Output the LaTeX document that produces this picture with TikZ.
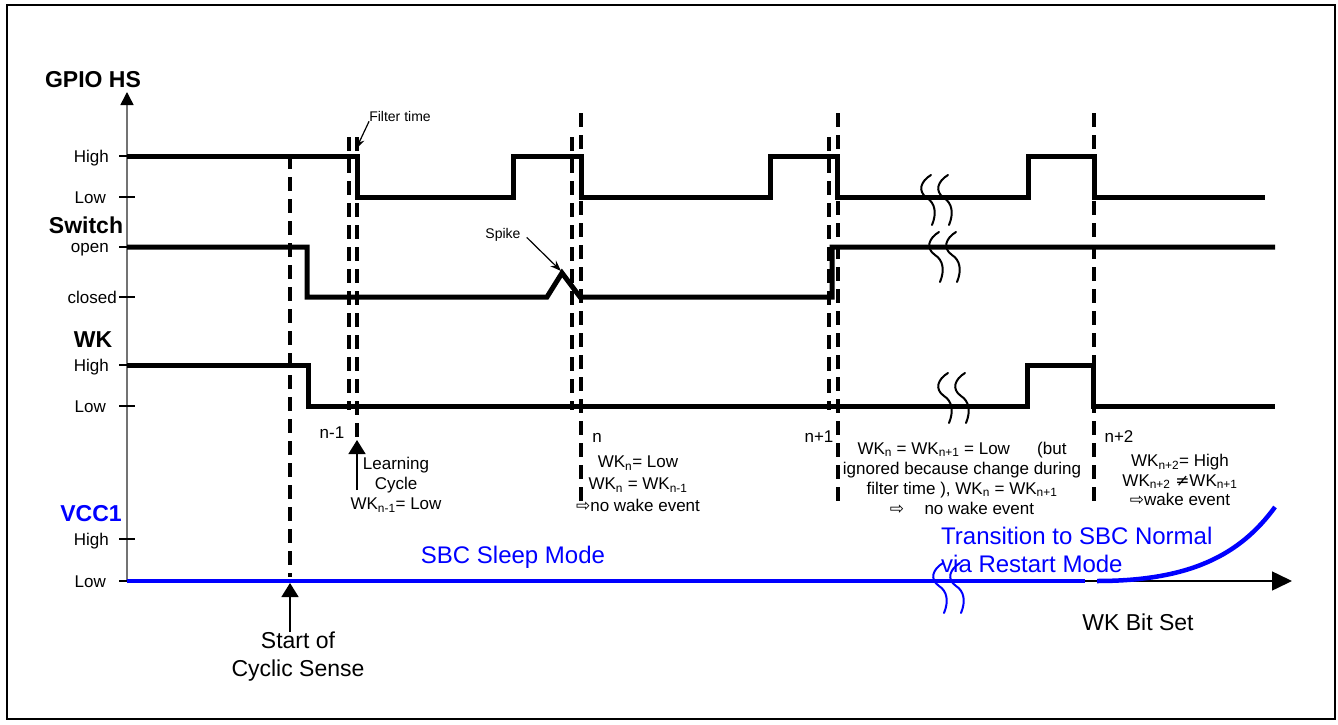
\documentclass[tikz,border=0pt]{standalone}
\usepackage{fontspec}
\setmainfont{Liberation Sans}
\newfontfamily\dvfont{DejaVu Sans}
\usetikzlibrary{calc}
\usetikzlibrary{arrows.meta}

\begin{document}
\begin{tikzpicture}[
      x=1pt, y=-1pt,
      sig/.style={line width=5pt, line join=miter},
      cut/.style={line width=3.5pt, dash pattern=on 14pt off 8pt},
      lvltick/.style={line width=2.5pt},
      lvl/.style={font=\fontsize{17pt}{19pt}\selectfont, inner sep=0pt, anchor=base east},
      head/.style={font=\fontsize{23pt}{25pt}\selectfont\bfseries, inner sep=0pt, anchor=base},
      note/.style={font=\fontsize{17pt}{20pt}\selectfont, inner sep=0pt, align=center},
      bigtxt/.style={font=\fontsize{23pt}{28pt}\selectfont, inner sep=0pt, align=center},
      tinytxt/.style={font=\fontsize{14pt}{16pt}\selectfont, inner sep=0pt},
      annarrow/.style={line width=1.2pt, -{Stealth[length=11pt,width=8pt]}},
      uparrow/.style={line width=1.5pt, -{Triangle[length=14pt,width=17pt]}},
      vcc/.style={line width=4.5pt, blue},
      brk/.pic={
        \foreach \dx in {0,17}
          \draw[line width=2pt, line cap=round, shift={(\dx,0)}]
            (4,-22) .. controls (-6,-16) and (-10,-6) .. (0,1)
            .. controls (8,6) and (10,16) .. (5,28);
      },
    ]
    \useasboundingbox (0,0) rectangle (1338,725);
    \draw[line width=1.2pt] (7,5) rectangle (1335,719);

    % axes
    \coordinate (org) at (127,581);
    \coordinate (ytip) at (127,92);
    \coordinate (xtip) at (1292,581);
    \draw[line width=1.5pt, -{Triangle[length=20pt,width=19pt]}] (org) -- (xtip);
    \draw[line width=1.5pt, black!55,
          -{Triangle[length=13pt,width=13pt,color=black,fill=black]}] (org) -- (ytip);

    % levels
    \foreach \lv/\rx/\by/\txt [count=\i] in {156/109/6/High, 197/106/6/Low, 247/109/5/open,
        297/117/6/closed, 365/109/6/High, 406/106/6/Low, 539/109/6/High, 581/106/6/Low}{
      \draw[lvltick] (119,\lv) -- (135,\lv);
      \node[lvl] (lvl\i) at (\rx,\lv+\by) {\txt};
    }
    \node[head] (gpiohd) at (93,88) {GPIO HS};
    \node[head] (swhd) at (86,233) {Switch};
    \node[head] (wkhd) at (93,347) {WK};
    \node[head, blue] (vcchd) at (91,521) {VCC1};

    % sampling instants
    \foreach \xx/\ya/\yb in {290/155/577, 349/137/410, 357/137/437, 572/137/410,
        581/113/505, 829/137/410, 838/113/505, 1094/113/503}
      \draw[cut] (\xx,\ya) -- (\xx,\yb);

    % GPIO HS
    \draw[sig] (127,156) -- (357,156) -- (357,197) -- (513,197) -- (513,156)
      -- (581,156) -- (581,197) -- (770,197) -- (770,156) -- (837,156)
      -- (837,197) -- (1028,197) -- (1028,156) -- (1094,156) -- (1094,197)
      -- (1265,197);
    % Switch
    \draw[sig] (127,247) -- (307,247) -- (307,297) -- (547,297) -- (562,273)
      -- (580,297) -- (832,297) -- (832,247) -- (1275,247);
    % WK
    \draw[sig] (127,365) -- (308,365) -- (308,406) -- (1027,406) -- (1027,365)
      -- (1093,365) -- (1093,406) -- (1275,406);
    % VCC1
    \draw[vcc] (org) -- (1085,581);
    \draw[vcc] (1097,581) .. controls (1190,581) and (1240,555) .. (1275,507);

    % time breaks
    \pic at (927,197) {brk};
    \pic at (935,254) {brk};
    \pic at (944,395) {brk};
    \pic[blue] at (939,585) {brk};

    % annotations
    \node[tinytxt, anchor=base] (filt) at (400,121) {Filter time};
    \coordinate (filtpt) at (356,149);
    \draw[annarrow] (filt.south west) -- (filtpt);

    \node[tinytxt, anchor=base] (spk) at (503,238) {Spike};
    \coordinate (spkpt) at (561,271);
    \draw[annarrow] ($(spk.east)+(6,3)$) -- (spkpt);

    \node[bigtxt] (start) at (298,657) {Start of\\Cyclic Sense};
    \coordinate (startpt) at (290,583);
    \draw[uparrow] (start.north -| startpt) -- (startpt);

    \node[note] (learn) at (396,485) {Learning\\Cycle\\WK\textsubscript{n-1}= Low};
    \coordinate (learntail) at (357,490);
    \coordinate (learnpt) at (357,440);
    \draw[uparrow] (learntail) -- (learnpt);

    \node[note, anchor=base] (nm1) at (332,438) {n-1};
    \node[note, anchor=base] (n0) at (597,442) {n};
    \node[note, anchor=base] (np1) at (819,442) {n+1};
    \node[note, anchor=base] (np2) at (1119,442) {n+2};

    \node[note, font=\fontsize{17pt}{22pt}\selectfont] (n0note) at (638,484)
      {WK\textsubscript{n}= Low\\WK\textsubscript{n} = WK\textsubscript{n-1}\\{\dvfont ⇨}no wake event};
    \node[note] (np1note) at (962,478)
      {WK\textsubscript{n} = WK\textsubscript{n+1} = Low\hspace{1.6em}(but\\ignored because change during\\filter time ), WK\textsubscript{n} = WK\textsubscript{n+1}\\{\dvfont ⇨}\hspace{1.2em}no wake event};
    \node[note, font=\fontsize{17pt}{19.5pt}\selectfont] (np2note) at (1180,480)
      {WK\textsubscript{n+2}= High\\WK\textsubscript{n+2} {\dvfont ≠}WK\textsubscript{n+1}\\{\dvfont ⇨}wake event};

    % modes
    \node[bigtxt, blue, font=\fontsize{24pt}{28pt}\selectfont, anchor=base] (sleep) at (513,563) {SBC Sleep Mode};
    \node[bigtxt, blue, font=\fontsize{24pt}{28pt}\selectfont, align=left, anchor=west] (trans) at (941,550)
      {Transition to SBC Normal\\via Restart Mode};
    \node[bigtxt, anchor=base] (wkbit) at (1138,630) {WK Bit Set};
\end{tikzpicture}
\end{document}
